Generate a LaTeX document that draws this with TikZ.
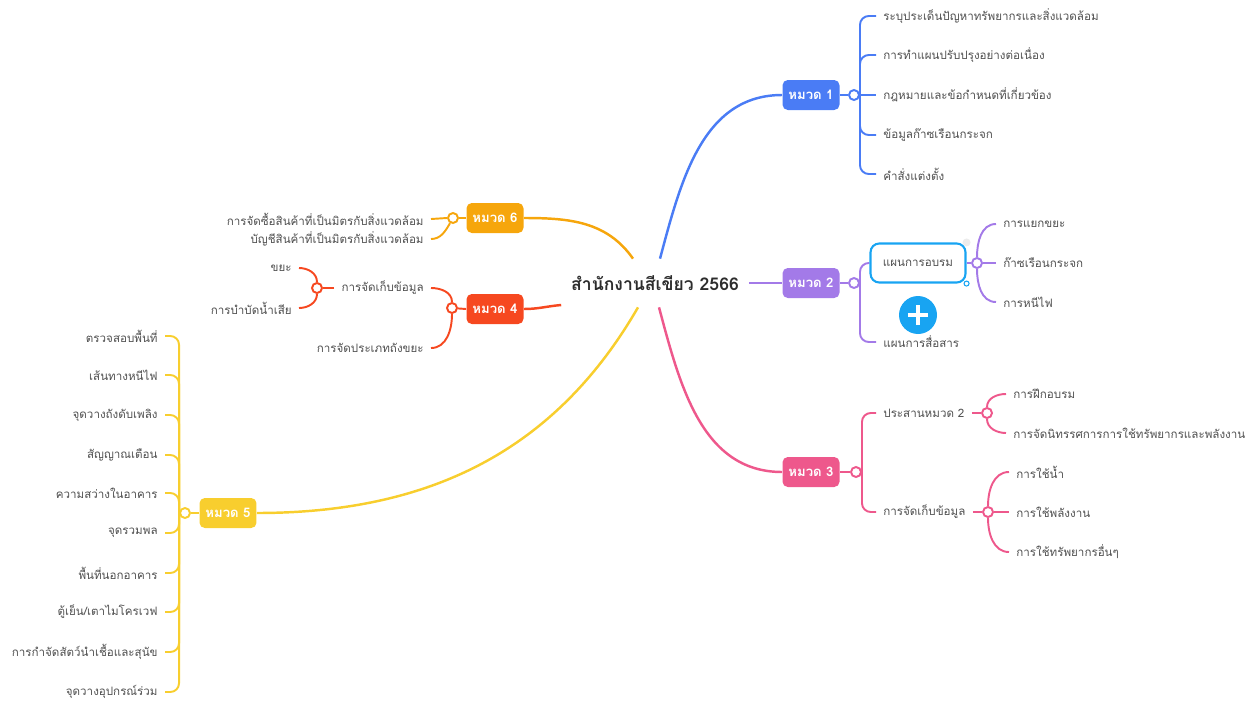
\documentclass[tikz,border=0pt]{standalone}
\usepackage{fontspec}
\setmainfont[Script=Thai]{Loma}
\usetikzlibrary{backgrounds}
\definecolor{mmblue}{RGB}{74,124,245}
\definecolor{mmpurple}{RGB}{163,122,232}
\definecolor{mmpink}{RGB}{238,88,140}
\definecolor{mmorange}{RGB}{246,166,12}
\definecolor{mmred}{RGB}{246,72,32}
\definecolor{mmyellow}{RGB}{248,206,46}
\definecolor{mmcyan}{RGB}{24,164,242}
\definecolor{mmtext}{RGB}{80,80,80}
\definecolor{mmroot}{RGB}{45,45,45}

\begin{document}
\begin{tikzpicture}[
  x=0.02cm, y=-0.02cm,
  title/.style={minimum width=3.74cm, minimum height=0.96cm, font=\fontsize{10}{12}\selectfont\bfseries, text=mmroot},
  cat/.style={rectangle, rounded corners=3pt, fill=#1, text=white, minimum width=1.14cm, minimum height=0.6cm, inner sep=0pt, font=\fontsize{7.5}{9}\selectfont\bfseries},
  hub/.style={circle, draw=#1, fill=white, line width=1.1pt, inner sep=0pt, minimum size=0.2cm},
  leaf/.style={font=\fontsize{6.6}{8}\selectfont, text=mmtext, inner xsep=4pt, inner ysep=1pt},
  link/.style={draw=#1, line width=1.1pt, rounded corners=5pt},
  trunk/.style={draw=#1, line width=1.4pt}
]
\useasboundingbox (0,0) rectangle (1257,700);

% Centre
\node[title] (root) at (655,283) {สำนักงานสีเขียว 2566};

% Categories
\node[cat=mmblue] (cat1) at (811,95) {หมวด 1};
\node[cat=mmpurple] (cat2) at (811,283) {หมวด 2};
\node[cat=mmpink] (cat3) at (811,472) {หมวด 3};
\node[cat=mmred] (cat4) at (495,309) {หมวด 4};
\node[cat=mmyellow] (cat5) at (228,513) {หมวด 5};
\node[cat=mmorange] (cat6) at (495,218) {หมวด 6};

% Hubs
\node[hub=mmblue] (hub1) at (854,95) {};
\node[hub=mmpurple] (hub2) at (854,283) {};
\node[hub=mmpink] (hub3) at (856,472) {};
\node[hub=mmred] (hub4) at (452,308) {};
\node[hub=mmyellow] (hub5) at (185,513) {};
\node[hub=mmorange] (hub6) at (453,218) {};

% Category 1
\node[leaf, anchor=west] (issue) at (876,16) {ระบุประเด็นปัญหาทรัพยากรและสิ่งแวดล้อม};
\node[leaf, anchor=west] (improve) at (876,55) {การทำแผนปรับปรุงอย่างต่อเนื่อง};
\node[leaf, anchor=west] (law) at (876,95) {กฎหมายและข้อกำหนดที่เกี่ยวข้อง};
\node[leaf, anchor=west] (ghg) at (876,135) {ข้อมูลก๊าซเรือนกระจก};
\node[leaf, anchor=west] (order) at (876,174) {คำสั่งแต่งตั้ง};

% Category 2
\node[leaf, draw=mmcyan, line width=1.2pt, rounded corners=5pt, minimum width=1.9cm, minimum height=0.78cm] (train) at (918,263) {แผนการอบรม};
\node[circle, draw=mmcyan, fill=white, line width=0.6pt, inner sep=0pt, minimum size=0.1cm] (grip) at (train.south east) {};
\node[circle, fill=gray!15, inner sep=0pt, minimum size=0.16cm] (more) at (train.north east) {};
\node[leaf, anchor=west] (comm) at (876,342) {แผนการสื่อสาร};
\node[hub=mmpurple] (hub2b) at (977,263) {};
\node[leaf, anchor=west] (sort) at (996,224) {การแยกขยะ};
\node[leaf, anchor=west] (gas) at (996,263) {ก๊าซเรือนกระจก};
\node[leaf, anchor=west] (fire) at (996,302) {การหนีไฟ};
\node[circle, fill=mmcyan, minimum size=0.76cm] (plus) at (918,315) {};
\draw[white, line width=2.2pt] ([xshift=-0.2cm]plus.center) -- ([xshift=0.2cm]plus.center);
\draw[white, line width=2.2pt] ([yshift=-0.2cm]plus.center) -- ([yshift=0.2cm]plus.center);

% Category 3
\node[leaf, anchor=west] (coord) at (876,413) {ประสานหมวด 2};
\node[leaf, anchor=west] (record) at (876,512) {การจัดเก็บข้อมูล};
\node[hub=mmpink] (hub3a) at (987,413) {};
\node[hub=mmpink] (hub3b) at (988,512) {};
\node[leaf, anchor=west] (drill) at (1006,394) {การฝึกอบรม};
\node[leaf, anchor=west] (expo) at (1006,433) {การจัดนิทรรศการการใช้ทรัพยากรและพลังงาน};
\node[leaf, anchor=west] (wateruse) at (1009,472) {การใช้น้ำ};
\node[leaf, anchor=west] (energy) at (1009,512) {การใช้พลังงาน};
\node[leaf, anchor=west] (others) at (1009,552) {การใช้ทรัพยากรอื่นๆ};

% Category 4
\node[leaf, anchor=east] (store) at (431,288) {การจัดเก็บข้อมูล};
\node[leaf, anchor=east] (bins) at (431,348) {การจัดประเภทถังขยะ};
\node[hub=mmred] (hub4a) at (317,288) {};
\node[leaf, anchor=east] (waste) at (299,268) {ขยะ};
\node[leaf, anchor=east] (sewage) at (299,308) {การบำบัดน้ำเสีย};

% Category 5
\node[leaf, anchor=east] (survey) at (165,336) {ตรวจสอบพื้นที่};
\node[leaf, anchor=east] (escape) at (165,375) {เส้นทางหนีไฟ};
\node[leaf, anchor=east] (extinguisher) at (165,415) {จุดวางถังดับเพลิง};
\node[leaf, anchor=east] (alarm) at (165,455) {สัญญาณเตือน};
\node[leaf, anchor=east] (light) at (165,493) {ความสว่างในอาคาร};
\node[leaf, anchor=east] (assembly) at (165,533) {จุดรวมพล};
\node[leaf, anchor=east] (outdoor) at (165,573) {พื้นที่นอกอาคาร};
\node[leaf, anchor=east] (fridge) at (165,612) {ตู้เย็น/เตาไมโครเวฟ};
\node[leaf, anchor=east] (pests) at (165,652) {การกำจัดสัตว์นำเชื้อและสุนัข};
\node[leaf, anchor=east] (shared) at (165,692) {จุดวางอุปกรณ์ร่วม};

% Category 6
\node[leaf, anchor=east] (buy) at (431,219) {การจัดซื้อสินค้าที่เป็นมิตรกับสิ่งแวดล้อม};
\node[leaf, anchor=east] (catalog) at (431,239) {บัญชีสินค้าที่เป็นมิตรกับสิ่งแวดล้อม};

% Connectors
\begin{scope}[on background layer]
\draw[trunk=mmblue] ([xshift=0.1cm]root.north) to[out=75,in=180] (cat1.west);
\draw[trunk=mmpurple] (root.east) -- (cat2.west);
\draw[trunk=mmpink] ([xshift=0.08cm]root.south) to[out=-75,in=180] (cat3.west);
\draw[trunk=mmred] ([yshift=-0.44cm]root.west) to[out=185,in=0] (cat4.east);
\draw[trunk=mmyellow] ([xshift=-0.34cm]root.south) to[out=-120,in=0] (cat5.east);
\draw[trunk=mmorange] ([xshift=-0.44cm]root.north) to[out=125,in=0] (cat6.east);

\draw[link=mmblue] (cat1.east) -- (hub1);
\draw[link=mmblue] (hub1.east) |- (issue.west);
\draw[link=mmblue] (hub1.east) |- (improve.west);
\draw[link=mmblue] (hub1.east) -- (law.west);
\draw[link=mmblue] (hub1.east) |- (ghg.west);
\draw[link=mmblue] (hub1.east) |- (order.west);

\draw[link=mmpurple] (cat2.east) -- (hub2);
\draw[link=mmpurple] (hub2.east) |- (train.west);
\draw[link=mmpurple] (hub2.east) |- (comm.west);
\draw[link=mmpurple] (train.east) -- (hub2b);
\draw[link=mmpurple] (hub2b) to[out=90,in=180] (sort.west);
\draw[link=mmpurple] (hub2b) -- (gas.west);
\draw[link=mmpurple] (hub2b) to[out=-90,in=180] (fire.west);

\draw[link=mmpink] (cat3.east) -- (hub3);
\draw[link=mmpink] (hub3.east) |- (coord.west);
\draw[link=mmpink] (hub3.east) |- (record.west);
\draw[link=mmpink] (coord.east) -- (hub3a);
\draw[link=mmpink] (hub3a) to[out=90,in=180] (drill.west);
\draw[link=mmpink] (hub3a) to[out=-90,in=180] (expo.west);
\draw[link=mmpink] (record.east) -- (hub3b);
\draw[link=mmpink] (hub3b) to[out=90,in=180] (wateruse.west);
\draw[link=mmpink] (hub3b) -- (energy.west);
\draw[link=mmpink] (hub3b) to[out=-90,in=180] (others.west);

\draw[link=mmred] (cat4.west) -- (hub4);
\draw[link=mmred] (hub4) to[out=90,in=0] (store.east);
\draw[link=mmred] (hub4) to[out=-90,in=0] (bins.east);
\draw[link=mmred] (store.west) -- (hub4a);
\draw[link=mmred] (hub4a) to[out=90,in=0] (waste.east);
\draw[link=mmred] (hub4a) to[out=-90,in=0] (sewage.east);

\draw[link=mmyellow] (cat5.west) -- (hub5);
\draw[link=mmyellow] (hub5.west) |- (survey.east);
\draw[link=mmyellow] (hub5.west) |- (escape.east);
\draw[link=mmyellow] (hub5.west) |- (extinguisher.east);
\draw[link=mmyellow] (hub5.west) |- (alarm.east);
\draw[link=mmyellow] (hub5.west) |- (light.east);
\draw[link=mmyellow] (hub5.west) |- (assembly.east);
\draw[link=mmyellow] (hub5.west) |- (outdoor.east);
\draw[link=mmyellow] (hub5.west) |- (fridge.east);
\draw[link=mmyellow] (hub5.west) |- (pests.east);
\draw[link=mmyellow] (hub5.west) |- (shared.east);

\draw[link=mmorange] (cat6.west) -- (hub6);
\draw[link=mmorange] (hub6.west) -- (buy.east);
\draw[link=mmorange] (hub6) to[out=-120,in=0] (catalog.east);
\end{scope}
\end{tikzpicture}
\end{document}
